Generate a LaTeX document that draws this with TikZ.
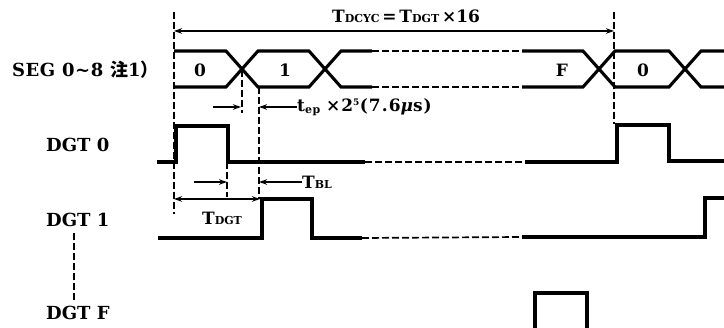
\documentclass[tikz,border=0pt]{standalone}
\usepackage{fontspec}
\setmainfont{DejaVu Serif}
\newfontfamily\cjk{Noto Sans CJK JP}
\usetikzlibrary{arrows.meta}
\newcommand\smallsub[1]{{\fontsize{11}{12}\selectfont #1}}
\begin{document}
\begin{tikzpicture}[x=1pt,y=-1pt,
  sig/.style={line width=3.1pt, line join=miter, line cap=butt},
  sigdash/.style={line width=1.7pt, dash pattern=on 7pt off 3pt},
  guide/.style={line width=1.5pt, dash pattern=on 7pt off 3pt},
  dim/.style={line width=1.2pt},
  tipend/.style={-{Stealth[length=8pt,width=5.5pt]}},
  tipboth/.style={{Stealth[length=8pt,width=5.5pt]}-{Stealth[length=8pt,width=5.5pt]}},
  lbl/.style={font=\fontsize{18}{20}\bfseries\selectfont, inner sep=0pt},
  val/.style={font=\fontsize{17}{19}\bfseries\selectfont, inner sep=0pt},
  note/.style={font=\fontsize{17}{19}\bfseries\selectfont, inner sep=0pt},
]
\useasboundingbox (0,0) rectangle (724,328);

% row labels
\node[lbl, anchor=west] (seg) at (12,70) {\addfontfeature{LetterSpace=3}SEG 0\textasciitilde8 {\cjk 注}1{\cjk ）}};
\node[lbl, anchor=west] (d0) at (46,145) {DGT 0};
\node[lbl, anchor=west] (d1) at (46,220) {DGT 1};
\node[lbl, anchor=west] (dF) at (46,313) {DGT F};
\coordinate (vtop) at (74,233);
\coordinate (vbot) at (74,300);
\draw[guide] (vtop) -- (vbot);

% SEG bus
\draw[sig] (174,51) -- (226,51) -- (258,87) -- (309,87) -- (341,51) -- (372,51);
\draw[sig] (174,87) -- (226,87) -- (258,51) -- (309,51) -- (341,87) -- (372,87);
\draw[sigdash] (372,51) -- (522,51) (372,87) -- (522,87);
\draw[sig] (522,51) -- (583,51) -- (615,87) -- (669,87) -- (701,51) -- (724,51);
\draw[sig] (522,87) -- (583,87) -- (615,51) -- (669,51) -- (701,87) -- (724,87);
\node[val] (s0) at (200,70) {0};
\node[val] (s1) at (285,70) {1};
\node[val] (sF) at (562,70) {F};
\node[val] (s0b) at (643,70) {0};

% DGT 0
\draw[sig] (157,162) -- (176,162) -- (176,126) -- (228,126) -- (228,162) -- (365,162);
\draw[sigdash] (365,162) -- (525,162);
\draw[sig] (525,162) -- (617,162) -- (617,125) -- (669,125) -- (669,161) -- (724,161);

% DGT 1
\draw[sig] (158,238) -- (262,238) -- (262,199) -- (312,199) -- (312,238) -- (362,238);
\draw[sigdash] (362,238) -- (522,237);
\draw[sig] (522,237) -- (705,237) -- (705,198) -- (724,198);

% DGT F
\draw[sig] (535,332) -- (535,293) -- (587,293) -- (587,332);

% guide lines
\coordinate (gA1) at (174,12);  \coordinate (gA2) at (174,214);
\coordinate (gB1) at (614,12);  \coordinate (gB2) at (614,124);
\coordinate (gC1) at (242,70);  \coordinate (gC2) at (242,113);
\coordinate (gD1) at (259,87);  \coordinate (gD2) at (259,199);
\coordinate (gE1) at (227,162); \coordinate (gE2) at (227,197);
\draw[guide] (gA1) -- (gA2);
\draw[guide] (gB1) -- (gB2);
\draw[guide] (gC1) -- (gC2);
\draw[guide] (gD1) -- (gD2);
\draw[guide] (gE1) -- (gE2);

% T_DCYC
\node[note, anchor=west] (tdcyc) at (332,16) {T\smallsub{DCYC}\,=\,T\smallsub{DGT}\,×16};
\coordinate (cycL) at (174,31);
\coordinate (cycR) at (614,31);
\draw[dim, tipboth] (cycL) -- (cycR);

% t_ep
\node[note, anchor=west] (tep) at (297,107) {\addfontfeature{LetterSpace=6}t\raisebox{-2pt}{\smallsub{ep}}\,\,×2\textsuperscript{\fontsize{9}{9}\selectfont 5}(7.6{\itshape μ}s)};
\coordinate (tepL) at (213,107);
\coordinate (tepA) at (241,107);
\coordinate (tepB) at (259,107);
\draw[dim, tipend] (tepL) -- (tepA);
\draw[dim, tipend] (tep.west) -- (tepB);

% T_BL
\node[note, anchor=west] (tbl) at (302,182) {T\smallsub{BL}};
\coordinate (blL) at (194,182);
\coordinate (blA) at (227,182);
\coordinate (blB) at (259,182);
\draw[dim, tipend] (blL) -- (blA);
\draw[dim, tipend] (tbl.west) -- (blB);

% T_DGT
\node[note] (tdgt) at (222,218) {T\smallsub{DGT}};
\coordinate (dgL) at (174,199);
\coordinate (dgR) at (260,199);
\draw[dim, tipboth] (dgL) -- (dgR);
\end{tikzpicture}
\end{document}
